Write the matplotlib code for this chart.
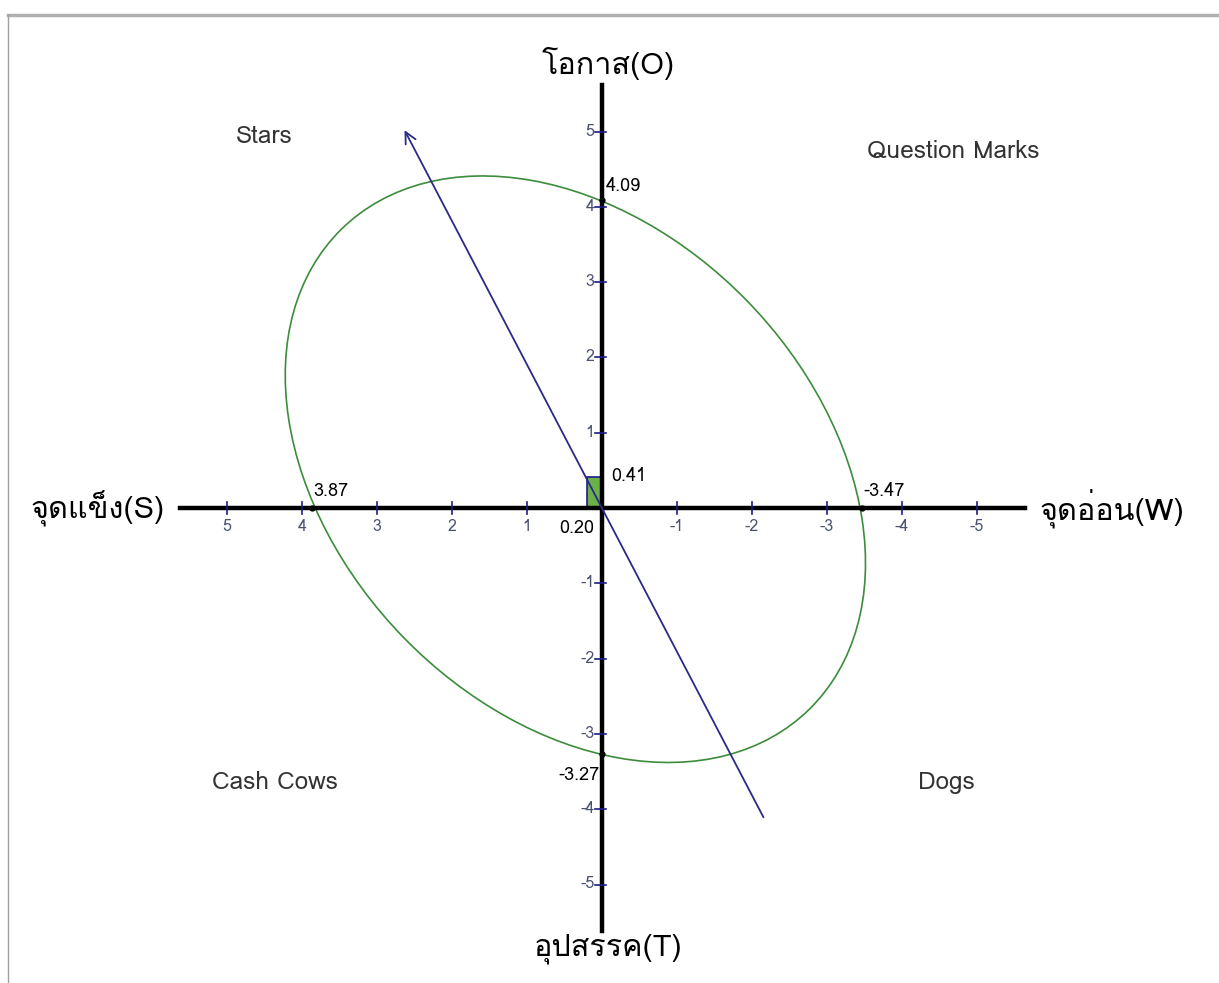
import matplotlib
matplotlib.use("Agg")
import matplotlib.pyplot as plt
from matplotlib import font_manager
from matplotlib.ft2font import FT2Font
from matplotlib.patches import Ellipse, Rectangle
from matplotlib.lines import Line2D

# ค่าจากภาพ
x_ticks = [5, 4, 3, 2, 1, -1, -2, -3, -4, -5]
y_ticks = [5, 4, 3, 2, 1, -1, -2, -3, -4, -5]
x_cross = [3.87, -3.47]
y_cross = [4.09, -3.27]
center = (0.20, 0.41)
ell_center = (0.355, 0.515)
ell_width = 8.92
ell_height = 6.40
ell_angle = 45.6
arrow_start = (-2.17, -4.14)
arrow_end = (2.65, 5.05)
quadrants = ["Stars", "Question Marks", "Cash Cows", "Dogs"]
quad_pos = [(4.5, 4.93), (-4.68, 4.74), (4.36, -3.64), (-4.59, -3.64)]
axis_names = ["โอกาส(O)", "อุปสรรค(T)", "จุดแข็ง(S)", "จุดอ่อน(W)"]


def find_thai_font():
    # หาฟอนต์ที่มีอักษรไทย
    for f in font_manager.fontManager.ttflist:
        try:
            if 0x0E01 in FT2Font(f.fname).get_charmap():
                return f.name
        except Exception:
            pass
    return None


thai = find_thai_font()
fams = [thai, "DejaVu Sans"] if thai else ["DejaVu Sans"]
plt.rcParams["font.family"] = fams

fig = plt.figure(figsize=(12.19, 9.83), dpi=100)
ax = fig.add_axes([0, 0, 1, 1])
ax.set_xlim(602 / 75.0, -(1219 - 602) / 75.0)
ax.set_ylim(-(983 - 508) / 75.3, 508 / 75.3)
ax.axis("off")

# กรอบของภาพ
fig.add_artist(Line2D([8 / 1219, 1], [1 - 15 / 983] * 2, color="#b0b0b0", lw=2.5))
fig.add_artist(Line2D([8 / 1219] * 2, [0, 1 - 15 / 983], color="#a0a0a0", lw=1))

# แกน
ax.plot([5.63, -5.64], [0, 0], color="black", lw=3.2, zorder=3)
ax.plot([0, 0], [-5.62, 5.62], color="black", lw=3.2, zorder=3)

tick_col = "#1c1c8a"
lab_col = "#4a5270"
for t in x_ticks:
    ax.plot([t, t], [-0.08, 0.08], color=tick_col, lw=1.2, zorder=4)
    ax.text(t, -0.15, str(t), ha="center", va="top", fontsize=11.5, color=lab_col)
for t in y_ticks:
    ax.plot([0.1, -0.05], [t, t], color=tick_col, lw=1.2, zorder=4)
    ax.text(0.1, t, str(t), ha="right", va="center", fontsize=11.5, color=lab_col)

# วงรี
ax.add_patch(Ellipse(ell_center, ell_width, ell_height, angle=ell_angle,
                     fill=False, edgecolor="#3c8c3c", lw=1.2, zorder=2))

# สี่เหลี่ยมที่จุดศูนย์กลาง
ax.add_patch(Rectangle((0, 0), center[0], center[1], facecolor="#6cb04a",
                       edgecolor="#1c1c8a", lw=1.2, zorder=2))

# ลูกศร
ax.annotate("", xy=arrow_end, xytext=arrow_start,
            arrowprops=dict(arrowstyle="->", color="#2a2a86", lw=1.3,
                            mutation_scale=20), zorder=5)

# จุดตัด
for v in x_cross:
    ax.plot(v, 0, "o", color="black", ms=3.5, zorder=6)
    ax.text(v - 0.02, 0.1, "%.2f" % v, ha="left", va="bottom", fontsize=13)
ax.plot(0, y_cross[0], "o", color="black", ms=3.5, zorder=6)
ax.text(-0.05, y_cross[0] + 0.07, "%.2f" % y_cross[0], ha="left", va="bottom", fontsize=13)
ax.plot(0, y_cross[1], "o", color="black", ms=3.5, zorder=6)
ax.text(0.03, y_cross[1] - 0.15, "%.2f" % y_cross[1], ha="right", va="top", fontsize=13)

ax.text(-0.12, center[1] + 0.02, "%.2f" % center[1], ha="left", va="center", fontsize=13)
ax.text(0.1, -0.15, "%.2f" % center[0], ha="right", va="top", fontsize=13)

for name, (qx, qy) in zip(quadrants, quad_pos):
    ax.text(qx, qy, name, ha="center", va="center", fontsize=17.5, color="#333333")

ax.text(-0.08, 5.68, axis_names[0], ha="center", va="bottom", fontsize=22)
ax.text(-0.08, -5.65, axis_names[1], ha="center", va="top", fontsize=22)
ax.text(5.83, 0, axis_names[2], ha="right", va="center", fontsize=22)
ax.text(-5.83, 0, axis_names[3], ha="left", va="center", fontsize=22)

fig.savefig("out.png", dpi=100)
